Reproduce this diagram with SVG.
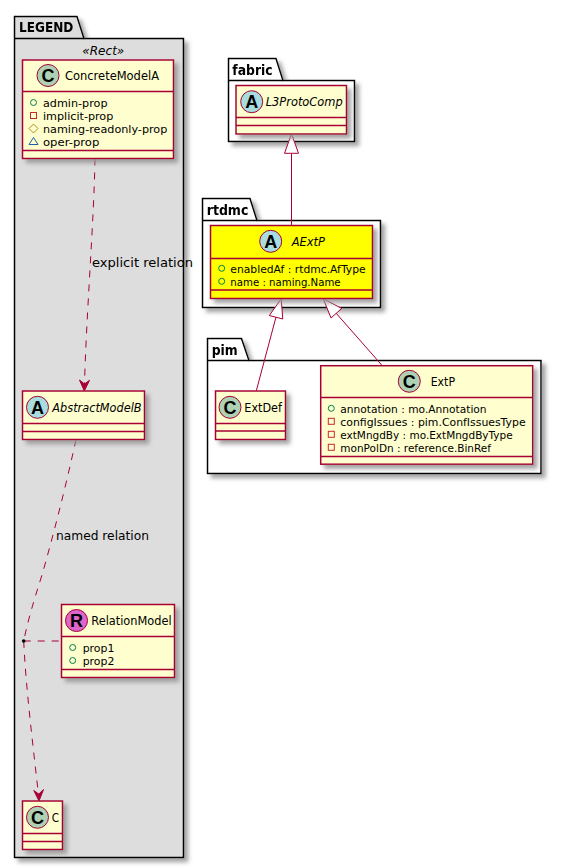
<svg xmlns="http://www.w3.org/2000/svg" width="561" height="868" viewBox="0 0 561 868">
<style>
text{font-family:"DejaVu Sans",sans-serif;font-size:12px;fill:#000}
.m{font-size:11px}
.pk{font-weight:bold;font-size:14px}
.it{font-style:italic}
.cl{fill:#FEFECE;stroke:#A80036;stroke-width:1.5}
.dv{stroke:#A80036;stroke-width:1.5;fill:none}
.pb{stroke:#000;stroke-width:1.5;fill:#fff}
.pg{stroke:#000;stroke-width:1.5;fill:#DDDDDD}
.ci{stroke:#A80036;stroke-width:1}
.ltr{font-weight:bold;font-size:18px;font-family:"Liberation Sans",sans-serif;text-anchor:middle}
.a{fill:none;stroke:#038048;stroke-width:1}
.r{fill:none;stroke:#C82930;stroke-width:1}
.d{fill:none;stroke:#B38D22;stroke-width:1}
.t{fill:none;stroke:#1963A0;stroke-width:1}
.ln{fill:none;stroke:#A80036;stroke-width:1}
.da{stroke-dasharray:7 7}
.head{fill:#fff;stroke:#A80036;stroke-width:1}
.ch{fill:#A80036;stroke:#A80036;stroke-width:1}
</style>
<defs>
<filter id="sh" x="-20%" y="-20%" width="150%" height="150%">
<feGaussianBlur in="SourceAlpha" stdDeviation="2"/>
<feOffset dx="4" dy="4"/>
<feColorMatrix type="matrix" values="0 0 0 0 0.3 0 0 0 0 0.3 0 0 0 0 0.3 0 0 0 0.85 0"/>
<feMerge><feMergeNode/><feMergeNode in="SourceGraphic"/></feMerge>
</filter>
</defs>

<g id="pkg-legend" filter="url(#sh)">
<path class="pg" d="M14.5 38.5V16.500H77L84 38.500H183.500V857.500H14.500Z"/>
<path class="pg" d="M14.500 38.500H84"/>
<text class="pk" x="19" y="32" textLength="54.300" lengthAdjust="spacingAndGlyphs">LEGEND</text>
</g>
<text class="it" x="82.300" y="54.500" style="font-size:13px" textLength="42" lengthAdjust="spacingAndGlyphs">«Rect»</text>
<g id="pkg-fabric" filter="url(#sh)">
<path class="pb" d="M228.500 80.500V58.500H276L283 80.500H354.500V141.500H228.500Z"/>
<path class="pb" d="M228.500 80.500H283"/>
<text class="pk" x="232.300" y="74.500" textLength="40.300" lengthAdjust="spacingAndGlyphs">fabric</text>
</g>
<g id="pkg-rtdmc" filter="url(#sh)">
<path class="pb" d="M202.500 220.500V198.500H250L257 220.500H380.500V307.500H202.500Z"/>
<path class="pb" d="M202.500 220.500H257"/>
<text class="pk" x="206.700" y="214.500" textLength="41.700" lengthAdjust="spacingAndGlyphs">rtdmc</text>
</g>
<g id="pkg-pim" filter="url(#sh)">
<path class="pb" d="M207.500 360.500V338.500H241.500L249 360.500H541V473.500H207.500Z"/>
<path class="pb" d="M207.500 360.500H249"/>
<text class="pk" x="211.700" y="354.500" textLength="26" lengthAdjust="spacingAndGlyphs">pim</text>
</g>

<g id="connectors">
<path class="ln" d="M291.500 153.300V225.500"/>
<path class="head" d="M291.500 133.800L298.500 153.300H284.500Z"/>
<path class="ln" d="M276 317L256.300 390.800"/>
<path class="head" d="M281.200 298.800L282.800 319L269.300 315.500Z"/>
<path class="ln" d="M336.200 313.300L381.700 365"/>
<path class="head" d="M323.300 298.800L341.700 308.400L331 318Z"/>
<path class="ln da" d="M95 158.500C94 220 86 320 84.500 385"/>
<path class="ch" d="M84.300 391L79.500 380L84.500 384L89.500 380.300Z"/>
<text x="92" y="267" textLength="101" lengthAdjust="spacingAndGlyphs">explicit relation</text>
<path class="ln da" d="M76 439.500C65 490 52 540 42 575C34 600 28 620 23.700 641"/>
<text x="56" y="540" textLength="93" lengthAdjust="spacingAndGlyphs">named relation</text>
<path class="ln da" d="M23.700 641C26 690 33 745 38.500 795"/>
<path class="ch" d="M39 801L33.800 790.500L38.800 794L43.500 789.500Z"/>
<path class="ln da" d="M23.700 641H61"/>
<circle cx="23.700" cy="641" r="1.800" fill="#000"/>
</g>

<g id="ConcreteModelA">
<g filter="url(#sh)"><rect class="cl" x="22.500" y="60" width="151" height="98.500"/></g>
<path class="dv" d="M22.500 91.500H173.500M22.500 150.500H173.500"/>
<circle class="ci" cx="48" cy="75.500" r="11" fill="#ADD1B2"/><text class="ltr" x="48" y="81.500">C</text>
<text x="65" y="80" textLength="94" lengthAdjust="spacingAndGlyphs">ConcreteModelA</text>
<circle class="a" cx="33.500" cy="102.500" r="3"/>
<text class="m" x="43" y="106.500" textLength="64.500" lengthAdjust="spacingAndGlyphs">admin-prop</text>
<rect class="r" x="30.500" y="112.500" width="6" height="6"/>
<text class="m" x="43" y="119.500" textLength="70.300" lengthAdjust="spacingAndGlyphs">implicit-prop</text>
<path class="d" d="M33.500 124L38 128.500L33.500 133L29 128.500Z"/>
<text class="m" x="43" y="132.500" textLength="124.300" lengthAdjust="spacingAndGlyphs">naming-readonly-prop</text>
<path class="t" d="M33.500 137.500L38 144.500H29Z"/>
<text class="m" x="43" y="145.500" textLength="56.300" lengthAdjust="spacingAndGlyphs">oper-prop</text>
</g>

<g id="AbstractModelB">
<g filter="url(#sh)"><rect class="cl" x="22.500" y="391" width="122" height="48.500"/></g>
<path class="dv" d="M22.500 423.500H144.500M22.500 431.500H144.500"/>
<circle class="ci" cx="37.500" cy="407.300" r="11" fill="#A9DCDF"/><text class="ltr" x="37.500" y="413.500">A</text>
<text class="it" x="52.300" y="411.500" textLength="89.300" lengthAdjust="spacingAndGlyphs">AbstractModelB</text>
</g>

<g id="RelationModel">
<g filter="url(#sh)"><rect class="cl" x="61.500" y="604.500" width="113" height="73"/></g>
<path class="dv" d="M61.500 636.500H174.500M61.500 669.500H174.500"/>
<circle class="ci" cx="76.500" cy="620.500" r="11" fill="#DD66CC"/><text class="ltr" x="76.500" y="626.500">R</text>
<text x="91.300" y="625" textLength="80.300" lengthAdjust="spacingAndGlyphs">RelationModel</text>
<circle class="a" cx="72.700" cy="647.500" r="3"/>
<text class="m" x="82.700" y="651.500" textLength="31.700" lengthAdjust="spacingAndGlyphs">prop1</text>
<circle class="a" cx="72.700" cy="660.500" r="3"/>
<text class="m" x="82.700" y="664.500" textLength="31.700" lengthAdjust="spacingAndGlyphs">prop2</text>
</g>

<g id="C">
<g filter="url(#sh)"><rect class="cl" x="22.500" y="801" width="40" height="48.500"/></g>
<path class="dv" d="M22.500 833.500H62.500M22.500 841.500H62.500"/>
<circle class="ci" cx="37.500" cy="817.300" r="11" fill="#ADD1B2"/><text class="ltr" x="37.500" y="823.500">C</text>
<text x="51.700" y="822" textLength="7.300" lengthAdjust="spacingAndGlyphs">C</text>
</g>

<g id="L3ProtoComp">
<g filter="url(#sh)"><rect class="cl" x="236" y="85.500" width="110.500" height="48.500"/></g>
<path class="dv" d="M236 117.500H346.500M236 125.500H346.500"/>
<circle class="ci" cx="251.700" cy="101.700" r="11" fill="#A9DCDF"/><text class="ltr" x="251.700" y="108">A</text>
<text class="it" x="265.700" y="106" textLength="77" lengthAdjust="spacingAndGlyphs">L3ProtoComp</text>
</g>

<g id="AExtP">
<g filter="url(#sh)"><rect class="cl" x="210.500" y="225.500" width="162" height="73" style="fill:#FFFF00"/></g>
<path class="dv" d="M210.500 258.500H372.500M210.500 290H372.500"/>
<circle class="ci" cx="270.700" cy="241.300" r="11" fill="#A9DCDF"/><text class="ltr" x="270.700" y="247.500">A</text>
<text class="it" x="291.700" y="246" textLength="33.300" lengthAdjust="spacingAndGlyphs">AExtP</text>
<circle class="a" cx="221.700" cy="268.300" r="3"/>
<text class="m" x="230.300" y="272.500" textLength="135.300" lengthAdjust="spacingAndGlyphs">enabledAf : rtdmc.AfType</text>
<circle class="a" cx="221.700" cy="281.300" r="3"/>
<text class="m" x="230.300" y="285.500" textLength="110.300" lengthAdjust="spacingAndGlyphs">name : naming.Name</text>
</g>

<g id="ExtDef">
<g filter="url(#sh)"><rect class="cl" x="215.500" y="391" width="70" height="48.500"/></g>
<path class="dv" d="M215.500 423.500H285.500M215.500 431H285.500"/>
<circle class="ci" cx="230" cy="407.300" r="11" fill="#ADD1B2"/><text class="ltr" x="230" y="413.500">C</text>
<text x="244.300" y="412" textLength="37.700" lengthAdjust="spacingAndGlyphs">ExtDef</text>
</g>

<g id="ExtP">
<g filter="url(#sh)"><rect class="cl" x="320.700" y="365.700" width="212" height="98.500"/></g>
<path class="dv" d="M320.700 397.500H532.700M320.700 456.500H532.700"/>
<circle class="ci" cx="409.300" cy="381.300" r="11" fill="#ADD1B2"/><text class="ltr" x="409.300" y="387.500">C</text>
<text x="430.700" y="386" textLength="24.300" lengthAdjust="spacingAndGlyphs">ExtP</text>
<circle class="a" cx="331.300" cy="408.300" r="3"/>
<text class="m" x="340.300" y="412.500" textLength="146.300" lengthAdjust="spacingAndGlyphs">annotation : mo.Annotation</text>
<rect class="r" x="328.300" y="418.300" width="6" height="6"/>
<text class="m" x="340.300" y="425.500" textLength="185.300" lengthAdjust="spacingAndGlyphs">configIssues : pim.ConfIssuesType</text>
<rect class="r" x="328.300" y="431.300" width="6" height="6"/>
<text class="m" x="340.300" y="438.500" textLength="172.300" lengthAdjust="spacingAndGlyphs">extMngdBy : mo.ExtMngdByType</text>
<rect class="r" x="328.300" y="444.300" width="6" height="6"/>
<text class="m" x="340.300" y="451.500" textLength="150.700" lengthAdjust="spacingAndGlyphs">monPolDn : reference.BinRef</text>
</g>
</svg>
